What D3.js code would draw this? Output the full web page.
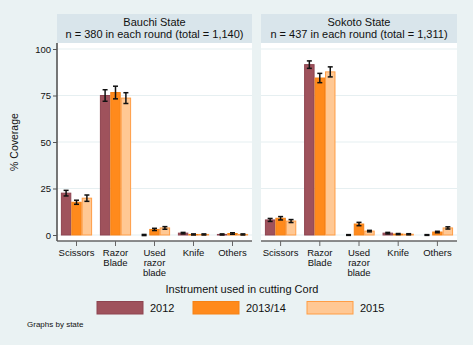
<!DOCTYPE html>
<html lang="en">
<head>
	<meta charset="utf-8">
	<title>Instrument used in cutting cord</title>
	<script src="https://d3js.org/d3.v7.min.js"></script>
	<style>
		body { margin: 0; background: #eaf2f3; }
		text { font-family: "Liberation Sans", Arial, sans-serif; fill: #111; }
	</style>
</head>
<body>
<div id="chart"></div>
<script>
// categories and series
const categories = ["Scissors", "Razor Blade", "Used razor blade", "Knife", "Others"];
const catLines = [["Scissors"], ["Razor", "Blade"], ["Used", "razor", "blade"], ["Knife"], ["Others"]];
const years = ["2012", "2013/14", "2015"];
const yTicks = [0, 25, 50, 75, 100];

// Bauchi State (% coverage, per year)
const bauchi2012 = [22.5, 75.0, 0.0, 1.0, 0.3];
const bauchi2013 = [17.6, 76.6, 3.0, 0.3, 0.8];
const bauchi2015 = [19.8, 73.6, 3.8, 0.3, 0.3];
// half-widths of the confidence intervals
const bauchiErr2012 = [1.5, 3.1, 0.3, 0.4, 0.3];
const bauchiErr2013 = [1.1, 3.4, 0.6, 0.3, 0.4];
const bauchiErr2015 = [1.7, 2.9, 0.7, 0.3, 0.3];

// Sokoto State
const sokoto2012 = [8.1, 91.6, 0.0, 1.0, 0.0];
const sokoto2013 = [9.0, 84.4, 5.9, 0.5, 1.6];
const sokoto2015 = [7.5, 87.7, 2.1, 0.4, 3.8];
const sokotoErr2012 = [0.8, 2.0, 0.2, 0.4, 0.2];
const sokotoErr2013 = [0.9, 2.5, 0.9, 0.3, 0.4];
const sokotoErr2015 = [0.8, 2.7, 0.4, 0.3, 0.6];

const panels = [
	{ title: "Bauchi State", sub: "n = 380 in each round (total = 1,140)",
	  values: [bauchi2012, bauchi2013, bauchi2015], errs: [bauchiErr2012, bauchiErr2013, bauchiErr2015] },
	{ title: "Sokoto State", sub: "n = 437 in each round (total = 1,311)",
	  values: [sokoto2012, sokoto2013, sokoto2015], errs: [sokotoErr2012, sokotoErr2013, sokotoErr2015] }
];

const fills = ["#9f525c", "#ff8a1c", "#ffc894"];
const strokes = ["#8e4450", "#f58216", "#ff9d45"];

const width = 473, height = 345;
const svg = d3.select("#chart").append("svg")
	.attr("width", width).attr("height", height);

svg.append("rect").attr("width", width).attr("height", height).attr("fill", "#eaf2f3");

const plotTop = 43, plotBottom = 241;
const panelX = [[57, 252], [261, 457]];

const y = d3.scaleLinear().domain([0, 100]).range([235, 49]);

panels.forEach((p, pi) => {
	const [x0, x1] = panelX[pi];
	const g = svg.append("g");

	// header strip
	g.append("rect").attr("x", x0).attr("y", 14).attr("width", x1 - x0).attr("height", plotTop - 14)
		.attr("fill", "#d9e5eb");
	g.append("text").attr("x", (x0 + x1) / 2).attr("y", 26).attr("text-anchor", "middle")
		.attr("font-size", 11).text(p.title);
	g.append("text").attr("x", (x0 + x1) / 2).attr("y", 38).attr("text-anchor", "middle")
		.attr("font-size", 11).text(p.sub);

	// plot region
	g.append("rect").attr("x", x0).attr("y", plotTop).attr("width", x1 - x0).attr("height", plotBottom - plotTop)
		.attr("fill", "#ffffff");

	// gridlines
	g.selectAll(".grid").data(yTicks).enter().append("line")
		.attr("x1", x0).attr("x2", x1)
		.attr("y1", d => y(d)).attr("y2", d => y(d))
		.attr("stroke", "#e6eff1").attr("stroke-width", 1.2);

	const x = d3.scaleBand().domain(categories).range([x0, x1]).paddingInner(0.2).paddingOuter(0.1);
	const xs = d3.scaleBand().domain(years).range([0, x.bandwidth()]);

	years.forEach((yr, yi) => {
		const rows = categories.map((c, ci) => ({ c, v: p.values[yi][ci], e: p.errs[yi][ci] }));
		g.selectAll(".bar" + yi).data(rows).enter().append("rect")
			.attr("x", d => x(d.c) + xs(yr) + 0.5)
			.attr("y", d => y(d.v))
			.attr("width", xs.bandwidth() - 1)
			.attr("height", d => y(0) - y(d.v))
			.attr("fill", fills[yi]).attr("stroke", strokes[yi]).attr("stroke-width", 1);

		// error bars
		const eb = g.selectAll(".err" + yi).data(rows).enter().append("g")
			.attr("stroke", "#111").attr("stroke-width", 1.5);
		const cx = d => x(d.c) + xs(yr) + xs.bandwidth() / 2;
		eb.append("line").attr("x1", cx).attr("x2", cx)
			.attr("y1", d => y(d.v - d.e)).attr("y2", d => y(d.v + d.e));
		eb.append("line").attr("x1", d => cx(d) - 2.5).attr("x2", d => cx(d) + 2.5)
			.attr("y1", d => y(d.v + d.e)).attr("y2", d => y(d.v + d.e));
		eb.append("line").attr("x1", d => cx(d) - 2.5).attr("x2", d => cx(d) + 2.5)
			.attr("y1", d => y(Math.max(d.v - d.e, -0.5))).attr("y2", d => y(Math.max(d.v - d.e, -0.5)));
	});

	// bottom axis
	g.append("line").attr("x1", x0).attr("x2", x1).attr("y1", plotBottom).attr("y2", plotBottom)
		.attr("stroke", "#666").attr("stroke-width", 1.3);
	categories.forEach((c, ci) => {
		const cx = x(c) + x.bandwidth() / 2;
		g.append("line").attr("x1", cx).attr("x2", cx).attr("y1", plotBottom).attr("y2", plotBottom + 5)
			.attr("stroke", "#666");
		const t = g.append("text").attr("x", cx).attr("y", 256).attr("text-anchor", "middle").attr("font-size", 9.5);
		catLines[ci].forEach((ln, li) => t.append("tspan").attr("x", cx).attr("dy", li ? 10 : 0).text(ln));
	});
});

// y axis on the left panel
const yAxis = svg.append("g").attr("transform", "translate(57,0)")
	.call(d3.axisLeft(y).tickValues(yTicks).tickSize(4).tickPadding(2));
yAxis.select(".domain").attr("stroke", "#555").attr("stroke-width", 1.6).attr("d", `M0,${plotTop}V${plotBottom}`);
yAxis.selectAll(".tick line").attr("stroke", "#555");
yAxis.selectAll(".tick text").attr("font-size", 9.5).attr("font-family", "Liberation Sans, Arial, sans-serif").attr("fill", "#111");

svg.append("text").attr("transform", "translate(18,142) rotate(-90)").attr("text-anchor", "middle")
	.attr("font-size", 10.5).text("% Coverage");

svg.append("text").attr("x", 242).attr("y", 293).attr("text-anchor", "middle")
	.attr("font-size", 11).text("Instrument used in cutting Cord");

// legend
const legendX = [97, 193, 307];
years.forEach((yr, i) => {
	svg.append("rect").attr("x", legendX[i]).attr("y", 301.5).attr("width", 46).attr("height", 12.5)
		.attr("fill", fills[i]).attr("stroke", strokes[i]);
	svg.append("text").attr("x", legendX[i] + 53).attr("y", 312).attr("font-size", 11).text(yr);
});

svg.append("text").attr("x", 27).attr("y", 327).attr("font-size", 8).text("Graphs by state");
</script>
</body>
</html>
